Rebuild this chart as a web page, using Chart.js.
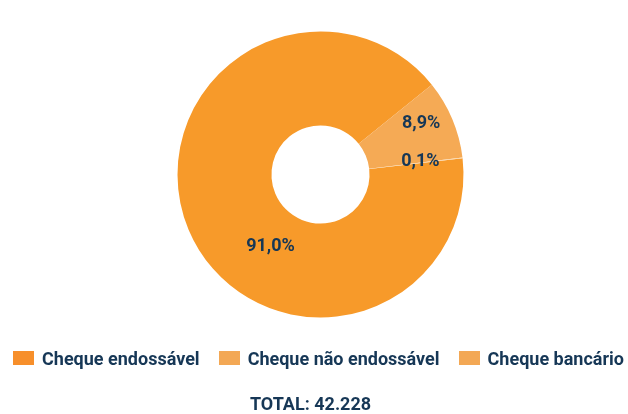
<!DOCTYPE html>
<html>
<head>
<meta charset="utf-8">
<script src="https://cdn.jsdelivr.net/npm/chart.js@4.4.1/dist/chart.umd.min.js"></script>
<style>
  html, body { margin: 0; padding: 0; background: #fff; }
  .wrap { position: relative; width: 628px; height: 414px; }
  canvas { position: absolute; left: 0; top: 0; }
  .legend {
    position: absolute; left: 0; width: 637px; top: 348px; height: 20px;
    display: flex; justify-content: center; align-items: center;
    font: bold 18px Roboto, sans-serif; color: #163756;
  }
  .legend .item { display: flex; align-items: center; margin: 0 9.5px; white-space: nowrap; }
  .legend .box { width: 21px; height: 14px; margin-right: 8px; }
  .total {
    position: absolute; left: 0; width: 621px; top: 393px;
    text-align: center; font: bold 18px Roboto, sans-serif; color: #163756;
  }
</style>
</head>
<body>
<div class="wrap">
  <canvas id="chart" width="628" height="414"></canvas>
  <div class="legend" id="legend"></div>
  <div class="total" id="total"></div>
</div>
<script>
const categories = ['Cheque endossável', 'Cheque não endossável', 'Cheque bancário'];
const shares = [91.0, 8.9, 0.1];
const shareLabels = ['91,0%', '8,9%', '0,1%'];
const totalLabel = 'TOTAL: 42.228';

const sliceColors = ['#f79a2a', '#f5aa55', '#f9d3a4'];
const legendColors = ['#f78f2b', '#f3a855', '#f3a855'];
const navy = '#163756';

document.getElementById('total').textContent = totalLabel;

// legend in html, so the three items stay on one line like the original
const legendEl = document.getElementById('legend');
categories.forEach((c, i) => {
    const item = document.createElement('span');
    item.className = 'item';
    const box = document.createElement('span');
    box.className = 'box';
    box.style.background = legendColors[i];
    item.appendChild(box);
    item.appendChild(document.createTextNode(c));
    legendEl.appendChild(item);
});

// labels sit inside each arc; nudges keep them where the original placed them
const sliceLabels = {
    id: 'sliceLabels',
    afterDatasetsDraw(chart, args, opts) {
        const ctx = chart.ctx;
        const arcs = chart.getDatasetMeta(0).data;
        ctx.save();
        ctx.font = 'bold 18px Roboto';
        ctx.fillStyle = navy;
        ctx.textAlign = 'center';
        ctx.textBaseline = 'middle';
        arcs.forEach((arc, i) => {
            const p = arc.getProps(['x', 'y', 'startAngle', 'endAngle', 'innerRadius', 'outerRadius'], true);
            const a = (p.startAngle + p.endAngle) / 2 + opts.angleShift[i] * Math.PI / 180;
            const r = p.innerRadius + (p.outerRadius - p.innerRadius) * opts.radial[i];
            ctx.fillText(shareLabels[i], p.x + Math.cos(a) * r, p.y + Math.sin(a) * r);
        });
        ctx.restore();
    }
};

new Chart(document.getElementById('chart'), {
    type: 'doughnut',
    data: {
        labels: categories,
        datasets: [{
            data: shares,
            backgroundColor: sliceColors,
            borderWidth: 0
        }]
    },
    options: {
        responsive: false,
        animation: false,
        rotation: 83.5,
        radius: 143,
        cutout: '34.3%',
        layout: { padding: { top: 0, left: 13, right: 0, bottom: 65 } },
        plugins: {
            legend: { display: false },
            tooltip: { enabled: false },
            sliceLabels: {
                angleShift: [-32.5, -4, -0.5],
                radial: [0.41, 0.68, 0.55]
            }
        }
    },
    plugins: [sliceLabels]
});
</script>
</body>
</html>
